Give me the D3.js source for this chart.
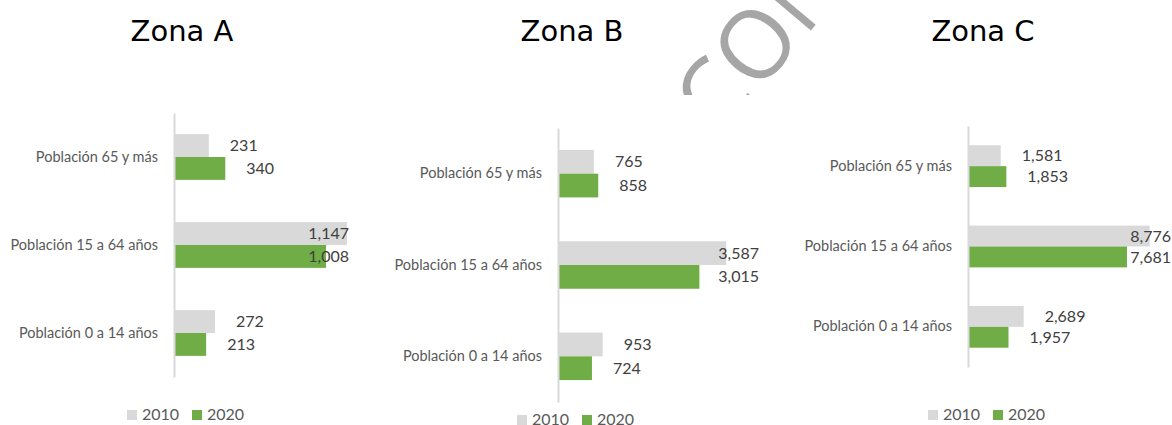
<!DOCTYPE html>
<html>
  <head>
    <meta charset="utf-8">
    <title>Zonas - Población</title>
    <style>
      body {
        margin: 0;
        background: #fff;
        font-family: Lato, 'Open Sans', sans-serif;
      }
      .domain {
        stroke: #d9d9d9;
        stroke-width: 2;
      }
      .tick text {
        fill: #595959;
        font-size: 14.5px;
      }
      .value {
        fill: #404040;
        font-size: 16px;
      }
      .legend text {
        fill: #595959;
        font-size: 16px;
      }
      .title {
        fill: #000;
        font-family: 'DejaVu Sans', sans-serif;
        font-size: 29px;
      }
    </style>
  </head>
  <body>
    <svg width="1172" height="425"></svg>
    <script src="https://d3js.org/d3.v7.min.js"></script>
    <script>
      const zones = ['Zona A', 'Zona B', 'Zona C'];
      const categories = ['Población 65 y más', 'Población 15 a 64 años', 'Población 0 a 14 años'];
      const years = ['2010', '2020'];
      const values2010 = [[231, 1147, 272], [765, 3587, 953], [1581, 8776, 2689]];
      const values2020 = [[340, 1008, 213], [858, 3015, 724], [1853, 7681, 1957]];
      const axisMax = [1200, 4000, 10000];

      const color = d3.scaleOrdinal().domain(years).range(['#d9d9d9', '#70ad47']);

      // where each small chart sits on the page
      const panels = [
        {axisX: 174, top: 113, bottom: 377, width: 181, right: 349, titleX: 182, legendX: 127, legendY: 420},
        {axisX: 558, top: 128, bottom: 402, width: 187.6, right: 759, titleX: 572, legendX: 517, legendY: 425},
        {axisX: 968, top: 126, bottom: 367, width: 207, right: 1171, titleX: 983, legendX: 928, legendY: 420}
      ];

      const svg = d3.select('svg');

      // faint watermark, only its top shows above the charts
      svg.append('clipPath').attr('id', 'wm-clip')
        .append('rect').attr('x', 0).attr('y', 0).attr('width', 1172).attr('height', 95);
      svg.append('g').attr('clip-path', 'url(#wm-clip)')
        .append('text')
          .attr('transform', 'translate(719,140) rotate(-50)')
          .attr('fill', '#a6a6a6')
          .style('font-family', "'Open Sans', sans-serif")
          .style('font-size', '95px')
          .text('CONFIDENCIAL');

      zones.forEach((zone, i) => {
        const p = panels[i];
        const g = svg.append('g');

        const data = categories.map((c, j) => ({
          category: c,
          values: [
            {year: years[0], value: values2010[i][j]},
            {year: years[1], value: values2020[i][j]}
          ]
        }));

        const y = d3.scaleBand()
          .domain(categories)
          .range([p.top, p.bottom])
          .paddingInner(0.48)
          .paddingOuter(0.24);
        const y1 = d3.scaleBand()
          .domain(years)
          .range([0, y.bandwidth()]);
        const x = d3.scaleLinear()
          .domain([0, axisMax[i]])
          .range([p.axisX, p.axisX + p.width]);

        g.append('text')
          .attr('class', 'title')
          .attr('x', p.titleX)
          .attr('y', 41)
          .attr('text-anchor', 'middle')
          .text(zone);

        const groups = g.selectAll('g.cat')
          .data(data)
          .enter().append('g')
            .attr('class', 'cat')
            .attr('transform', d => `translate(0,${y(d.category)})`);

        groups.selectAll('rect')
          .data(d => d.values)
          .enter().append('rect')
            .attr('x', x(0))
            .attr('y', d => y1(d.year))
            .attr('width', d => x(d.value) - x(0))
            .attr('height', y1.bandwidth())
            .attr('fill', d => color(d.year));

        groups.selectAll('text.value')
          .data(d => d.values)
          .enter().append('text')
            .attr('class', 'value')
            .attr('y', d => y1(d.year) + y1.bandwidth() / 2)
            .attr('dy', '0.35em')
            .text(d => d3.format(',')(d.value))
            .each(function(d) {
              // outside end, pulled back in when it would run off the chart
              const w = this.getComputedTextLength();
              const left = Math.min(x(d.value) + 21, p.right - w);
              d3.select(this).attr('x', left);
            });

        g.append('g')
          .attr('transform', `translate(${p.axisX},0)`)
          .call(d3.axisLeft(y).tickSize(0).tickPadding(16))
          .call(a => a.select('.domain').attr('stroke', '#d9d9d9'))
          .call(a => a.selectAll('.tick text').style('font-family', 'Lato, sans-serif'));

        const legend = g.append('g')
          .attr('class', 'legend')
          .attr('transform', `translate(${p.legendX},${p.legendY})`);
        const item = legend.selectAll('g')
          .data(years)
          .enter().append('g')
            .attr('transform', (d, k) => `translate(${k * 65},0)`);
        item.append('rect')
          .attr('x', 0)
          .attr('y', -10)
          .attr('width', 10)
          .attr('height', 10)
          .attr('fill', d => color(d));
        item.append('text')
          .attr('x', 15)
          .attr('y', 0)
          .text(d => d);
      });
    </script>
  </body>
</html>
